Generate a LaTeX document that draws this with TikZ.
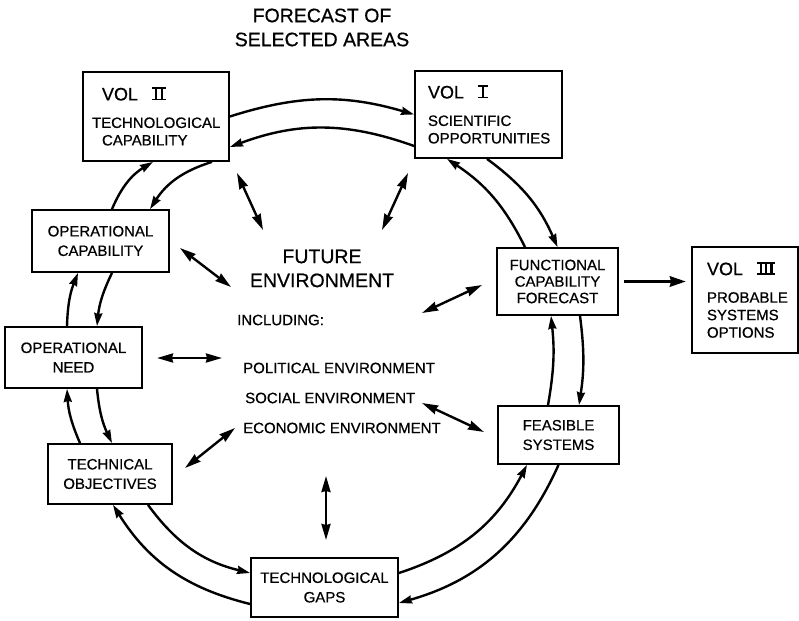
\documentclass[tikz,border=0pt]{standalone}
\usepackage{fontspec}
\setmainfont{Liberation Sans}[FakeBold=0.6]
\usetikzlibrary{arrows.meta}
\tikzset{>={Stealth[length=13pt,width=8pt,inset=1pt]}}
\tikzset{
    box/.style={draw, line width=1.8pt, inner sep=0pt, align=center,
        font=\fontsize{15}{19.5}\selectfont},
    volbox/.style={box, align=left, font=\fontsize{15}{17.5}\selectfont},
    ring/.style={->, line width=2.4pt},
    envarrow/.style={<->, line width=2.4pt, >={Stealth[length=16pt,width=9pt,inset=1pt]}},
    envtext/.style={inner sep=0pt, font=\fontsize{15}{17}\selectfont},
    bigtext/.style={inner sep=0pt, align=center, font=\fontsize{19.5}{24}\selectfont},
}
\newcommand{\numstroke}{\rule{2.2pt}{13pt}}
\newcommand{\romnum}[1]{\setbox0\hbox{#1}%
    \rlap{\rule{\wd0}{1.8pt}}\rlap{\raisebox{11.2pt}{\rule{\wd0}{1.8pt}}}\box0}
\newcommand{\volhead}[1]{{\fontsize{18}{20}\selectfont VOL\hspace{14pt}\romnum{#1}}}

\begin{document}
\begin{tikzpicture}[x=1pt,y=-1pt]
    \useasboundingbox (0,0) rectangle (799,620);
    \fill[white] (0,0) rectangle (799,620);

    % boxes round the ring
    \node[volbox, text width=128pt, inner xsep=9pt, minimum height=89pt] (vtwo) at (156,116.5)
        {\hspace*{10pt}\volhead{\kern3pt\numstroke\kern3.6pt\numstroke\kern3pt}\\[10pt]TECHNOLOGICAL\\\hspace*{10pt}CAPABILITY};
    \node[volbox, text width=121pt, inner xsep=13pt, minimum height=87pt] (vone) at (488.5,114.5)
        {\volhead{\kern3.9pt\numstroke\kern3.9pt}\\[10pt]SCIENTIFIC\\OPPORTUNITIES};
    \node[box, minimum width=121pt, minimum height=67pt, font=\fontsize{15}{16.5}\selectfont] (func) at (557.5,281.5)
        {FUNCTIONAL\\CAPABILITY\\FORECAST};
    \node[volbox, text width=76pt, inner xsep=15pt, minimum height=106pt] (vthree) at (745,300)
        {\volhead{\kern2.5pt\numstroke\kern3.2pt\numstroke\kern3.2pt\numstroke\kern2.5pt}\\[10pt]PROBABLE\\SYSTEMS\\OPTIONS};
    \node[box, minimum width=121pt, minimum height=58pt] (feas) at (558.5,435) {FEASIBLE\\SYSTEMS};
    \node[box, minimum width=147pt, minimum height=59pt] (gaps) at (324.5,587.5) {TECHNOLOGICAL\\GAPS};
    \node[box, minimum width=124pt, minimum height=60pt] (tobj) at (110,474) {TECHNICAL\\OBJECTIVES};
    \node[box, minimum width=137pt, minimum height=61pt] (oneed) at (73.5,357.5) {OPERATIONAL\\NEED};
    \node[box, minimum width=137pt, minimum height=62pt] (ocap) at (100.5,241) {OPERATIONAL\\CAPABILITY};

    % texts
    \node[bigtext] (title) at (322,27.5) {FORECAST OF\\SELECTED AREAS};
    \node[bigtext] (future) at (322,268.5) {FUTURE\\ENVIRONMENT};
    \node[envtext, anchor=west] (incl) at (237,320) {INCLUDING:};
    \node[envtext, anchor=west] (pol) at (243,368) {POLITICAL ENVIRONMENT};
    \node[envtext, anchor=west] (soc) at (245,398) {SOCIAL ENVIRONMENT};
    \node[envtext, anchor=west] (eco) at (243,428) {ECONOMIC ENVIRONMENT};

    % ring
    \draw[ring] (vtwo.east) to[bend left=17] (vone.west);
    \draw[ring] ([shift={(0,31.5)}]vone.west) to[bend right=20] ([shift={(0,30.5)}]vtwo.east);
    \draw[ring] ([shift={(-1.5,0)}]vone.south) to[bend left=15] (func.north);
    \draw[ring] ([shift={(-32.5,0)}]func.north) to[bend right=15] ([shift={(-41.5,0)}]vone.south);
    \draw[ring] ([shift={(22.5,0)}]func.south) to[bend left=8] ([shift={(20.5,0)}]feas.north);
    \draw[ring] ([shift={(-10.5,0)}]feas.north) to[bend right=8] ([shift={(-6.5,0)}]func.south);
    \draw[ring] ([shift={(0,-14.5)}]gaps.east) to[bend right=22] ([shift={(-31.5,0)}]feas.south);
    \draw[ring] (feas.south) to[bend left=25] ([shift={(0,15.5)}]gaps.east);
    \draw[ring] ([shift={(38,0)}]tobj.south) to[bend right=20] ([shift={(0,-14.5)}]gaps.west);
    \draw[ring] ([shift={(0,16.5)}]gaps.west) to[bend left=22] ([shift={(3,0)}]tobj.south);
    \draw[ring] ([shift={(23.5,0)}]oneed.south) to[bend right=10] ([shift={(2,0)}]tobj.north);
    \draw[ring] ([shift={(-30,0)}]tobj.north) to[bend left=10] ([shift={(-6.5,0)}]oneed.south);
    \draw[ring] ([shift={(11.5,0)}]ocap.south) to[bend right=10] ([shift={(23.5,0)}]oneed.north);
    \draw[ring] ([shift={(-6.5,0)}]oneed.north) to[bend left=10] ([shift={(-22.5,0)}]ocap.south);
    \draw[ring] ([shift={(56,0)}]vtwo.south) to[bend right=20] ([shift={(49.5,0)}]ocap.north);
    \draw[ring] ([shift={(11.5,0)}]ocap.north) to[bend left=18] ([shift={(-3,0)}]vtwo.south);

    % links to the environment
    \foreach \n/\xa/\ya/\xb/\yb in {a/237/173/263/230, b/408/173/382/230, c/180/248/231/287,
            d/422/313/482/285, e/157/358/222/358, f/185/468/235/428, g/326/476/326/540, h/422/403/484/432} {
        \coordinate (\n1) at (\xa,\ya);
        \coordinate (\n2) at (\xb,\yb);
        \draw[envarrow] (\n1) -- (\n2);
    }

    \draw[->, line width=3.5pt, >={Stealth[length=16pt,width=10pt,inset=1pt]}, shorten <=5pt, shorten >=5pt]
        (func.east) -- (func.east -| vthree.west);
\end{tikzpicture}
\end{document}
